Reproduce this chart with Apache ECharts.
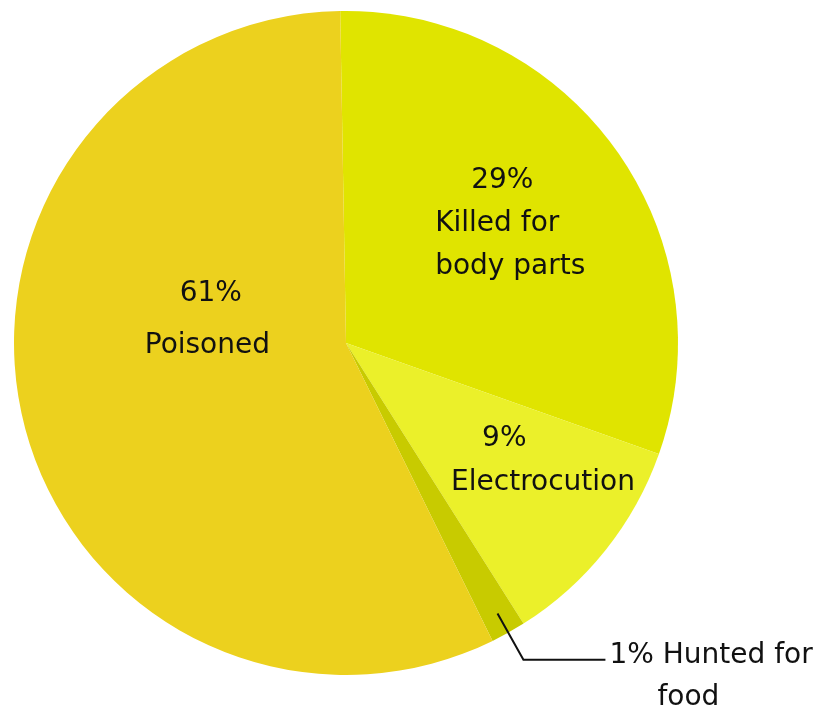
<!DOCTYPE html>
<html>
<head>
<meta charset="utf-8">
<script src="https://cdn.jsdelivr.net/npm/echarts@6/dist/echarts.min.js"></script>
<style>
html,body{margin:0;padding:0;background:#fff;}
#main{width:818px;height:711px;}
</style>
</head>
<body>
<div id="main"></div>
<script>
const categories = ['Killed for body parts', 'Electrocution', 'Hunted for food', 'Poisoned'];
const shares = [30.7, 10.6, 1.7, 57.0];
const pctLabels = ['29%', '9%', '1%', '61%'];
const labelLines = [['Killed for', 'body parts'], ['Electrocution'], ['Hunted for', 'food'], ['Poisoned']];

const colors = ['#e0e400', '#ebf02a', '#c8cb00', '#ecd11e'];

// label styling (not data)
const FONT = 'DejaVu Sans';
const TXT = '#111';
const insideStyle = [
  { W: 160, pctPad: 36, lh: 43, dx: 50, dy: -21 },
  { W: 195, pctPad: 31, lh: 44, dx: 86, dy: 12 },
  null,
  { W: 125, pctPad: 35, lh: 52, dx: 43, dy: -63 }
];

let rich = {};
[0, 1, 3].forEach(i => {
  const s = insideStyle[i];
  rich['p' + i] = { width: s.W, align: 'left', padding: [0, 0, 0, s.pctPad], lineHeight: s.lh, fontSize: 28, fontFamily: FONT, color: TXT };
  rich['t' + i] = { width: s.W, align: 'left', lineHeight: s.lh, fontSize: 28, fontFamily: FONT, color: TXT };
});
rich.h1 = { fontSize: 28, fontFamily: FONT, color: TXT, lineHeight: 42, align: 'left' };
rich.h2 = { fontSize: 28, fontFamily: FONT, color: TXT, lineHeight: 42, align: 'left', padding: [0, 0, 0, 48] };

const mainData = categories.map((name, i) => {
  const item = { name: name, value: shares[i], itemStyle: { color: colors[i] } };
  if (i === 2) {
    item.label = { show: false };
    item.labelLine = { show: false };
  } else {
    item.label = {
      show: true,
      position: 'inside',
      formatter: '{p' + i + '|' + pctLabels[i] + '}\n' + labelLines[i].map(t => '{t' + i + '|' + t + '}').join('\n'),
      rich: rich
    };
    item.labelLine = { show: false };
  }
  return item;
});

// transparent overlay ring used only to carry the leader-line label of the small slice
const overlayData = categories.map((name, i) => {
  const item = { name: name, value: shares[i], itemStyle: { color: 'rgba(0,0,0,0)', borderWidth: 0 } };
  if (i === 2) {
    item.label = {
      show: true,
      position: 'outside',
      formatter: '{h1|' + pctLabels[i] + ' ' + labelLines[i][0] + '}\n{h2|' + labelLines[i][1] + '}',
      rich: rich,
      padding: [34, 0, 0, 0],
      distanceToLabelLine: 4
    };
    item.labelLine = { show: true, length: 53, length2: 82, smooth: false, lineStyle: { color: '#111', width: 2, opacity: 1 } };
  } else {
    item.label = { show: false };
    item.labelLine = { show: false };
  }
  return item;
});

const chart = echarts.init(document.getElementById('main'), null, { renderer: 'canvas' });
chart.setOption({
  backgroundColor: '#ffffff',
  animation: false,
  series: [{
    type: 'pie',
    z: 2,
    center: [346, 343],
    radius: 332,
    startAngle: 91,
    clockwise: true,
    avoidLabelOverlap: false,
    silent: true,
    label: { fontFamily: FONT, fontSize: 28, color: TXT },
    labelLayout: function (params) {
      const s = insideStyle[params.dataIndex];
      return s ? { dx: s.dx, dy: s.dy } : {};
    },
    data: mainData
  }, {
    type: 'pie',
    z: 5,
    center: [346, 343],
    radius: 310,
    startAngle: 91,
    clockwise: true,
    avoidLabelOverlap: false,
    silent: true,
    label: { fontFamily: FONT, fontSize: 28, color: TXT },
    data: overlayData
  }]
});
</script>
</body>
</html>
